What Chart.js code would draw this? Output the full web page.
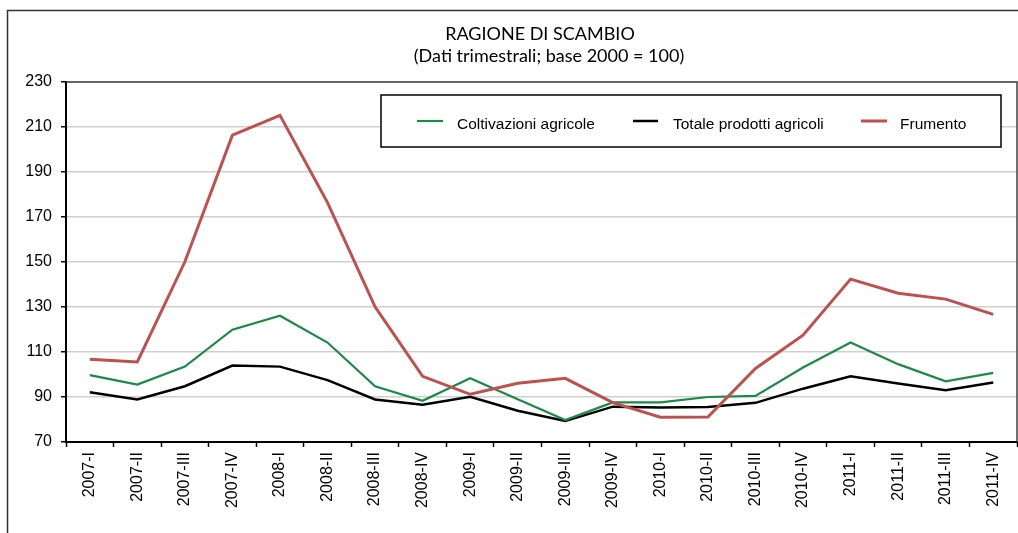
<!DOCTYPE html>
<html>
<head>
<meta charset="utf-8">
<script src="https://cdn.jsdelivr.net/npm/chart.js@4.4.1/dist/chart.umd.min.js"></script>
<style>
  html, body { margin: 0; padding: 0; background: #fff; }
  #wrap { position: relative; width: 1018px; height: 533px; }
</style>
</head>
<body>
<div id="wrap"><canvas id="c" width="1018" height="533"></canvas></div>
<script>
const titleLines = ['RAGIONE DI SCAMBIO', '(Dati trimestrali; base 2000 = 100)'];
const categories = ['2007-I','2007-II','2007-III','2007-IV','2008-I','2008-II','2008-III','2008-IV',
  '2009-I','2009-II','2009-III','2009-IV','2010-I','2010-II','2010-III','2010-IV',
  '2011-I','2011-II','2011-III','2011-IV'];
const seriesNames = ['Coltivazioni agricole', 'Totale prodotti agricoli', 'Frumento'];
const coltivazioni = [99.7,95.5,103.5,119.9,126.1,114.2,94.8,88.3,98.3,89.0,79.8,87.6,87.6,90.0,90.5,103.1,114.2,104.6,97.0,100.7];
const totale = [92.1,88.9,94.8,104.0,103.5,97.5,88.9,86.6,90.1,83.9,79.3,85.7,85.3,85.6,87.4,93.7,99.2,96.0,93.0,96.4];
const frumento = [106.8,105.6,150.1,206.4,215.2,176.4,130.1,99.2,91.2,96.1,98.3,87.5,81.0,81.1,102.7,117.5,142.4,136.1,133.5,126.7];
const yMin = 70, yMax = 230, yStep = 20;

const colors = ['#1a8a48', '#000000', '#c0504d'];
const widths = [2.2, 2.5, 3];

const decor = {
  id: 'decor',
  beforeDraw(chart) {
    const ctx = chart.ctx;
    ctx.save();
    ctx.fillStyle = '#fff';
    ctx.fillRect(0, 0, chart.width, chart.height);
    // outer frame
    ctx.strokeStyle = '#333';
    ctx.lineWidth = 1.5;
    ctx.beginPath();
    ctx.moveTo(7.5, chart.height);
    ctx.lineTo(7.5, 10.5);
    ctx.lineTo(chart.width, 10.5);
    ctx.stroke();
    // title
    ctx.fillStyle = '#000';
    ctx.font = '18px Lato, "Open Sans", sans-serif';
    ctx.textAlign = 'center';
    ctx.textBaseline = 'alphabetic';
    ctx.fillText(titleLines[0], 540, 40);
    ctx.fillText(titleLines[1], 549, 62);
    ctx.restore();
  },
  afterDatasetsDraw(chart) {
    const ctx = chart.ctx;
    const a = chart.chartArea;
    ctx.save();
    // plot frame top/right
    ctx.strokeStyle = '#404040';
    ctx.lineWidth = 1.5;
    ctx.beginPath();
    ctx.moveTo(a.left, a.top);
    ctx.lineTo(a.right, a.top);
    ctx.lineTo(a.right, a.bottom);
    ctx.stroke();
    // legend box
    const lx = 381, ly = 95, lw = 620, lh = 52;
    ctx.fillStyle = '#fff';
    ctx.fillRect(lx, ly, lw, lh);
    ctx.strokeStyle = '#000';
    ctx.lineWidth = 1.5;
    ctx.strokeRect(lx, ly, lw, lh);
    const items = [
      {x1: 417, x2: 443, tx: 457},
      {x1: 633, x2: 658, tx: 673},
      {x1: 861, x2: 887, tx: 900}
    ];
    ctx.font = '15.5px "Liberation Sans", Arial, sans-serif';
    ctx.textBaseline = 'alphabetic';
    ctx.textAlign = 'left';
    const my = 121;
    chart.data.datasets.forEach((ds) => {
      const it = items[ds.legendIndex];
      ctx.strokeStyle = ds.borderColor;
      ctx.lineWidth = ds.borderWidth;
      ctx.beginPath();
      ctx.moveTo(it.x1, my);
      ctx.lineTo(it.x2, my);
      ctx.stroke();
      ctx.fillStyle = '#000';
      ctx.fillText(ds.label, it.tx, 128.5);
    });
    ctx.restore();
  }
};

const datasets = [coltivazioni, totale, frumento].map((vals, i) => ({
  label: seriesNames[i],
  data: vals,
  borderColor: colors[i],
  backgroundColor: colors[i],
  borderWidth: widths[i],
  pointRadius: 0,
  tension: 0,
  fill: false,
  legendIndex: i,
  order: i === 2 ? 0 : (i === 0 ? 1 : 2)
}));

new Chart(document.getElementById('c'), {
  type: 'line',
  data: { labels: categories, datasets },
  options: {
    responsive: false,
    animation: false,
    devicePixelRatio: 1,
    layout: { padding: { top: 82, left: 0, right: 1, bottom: 0 } },
    plugins: { legend: { display: false }, title: { display: false }, tooltip: { enabled: false } },
    scales: {
      x: {
        type: 'category',
        offset: true,
        grid: { display: true, offset: true, drawOnChartArea: false, drawTicks: true, tickLength: 5, tickColor: '#000', tickWidth: 1.5 },
        border: { display: true, color: '#000', width: 2 },
        ticks: {
          minRotation: 90, maxRotation: 90, autoSkip: false, padding: 5,
          color: '#000', font: { family: '"Liberation Sans", Arial, sans-serif', size: 16 }
        },
        afterFit(s) { s.height = 91; }
      },
      y: {
        min: yMin, max: yMax,
        grid: { color: '#cfcfcf', lineWidth: 1.5, drawTicks: true, tickLength: 5, tickColor: '#000', tickWidth: 1.5 },
        border: { display: true, color: '#000', width: 2 },
        ticks: {
          stepSize: yStep, padding: 9, color: '#000',
          font: { family: '"Liberation Sans", Arial, sans-serif', size: 16 }
        },
        afterFit(s) { s.width = 66; }
      }
    }
  },
  plugins: [decor]
});
</script>
</body>
</html>
